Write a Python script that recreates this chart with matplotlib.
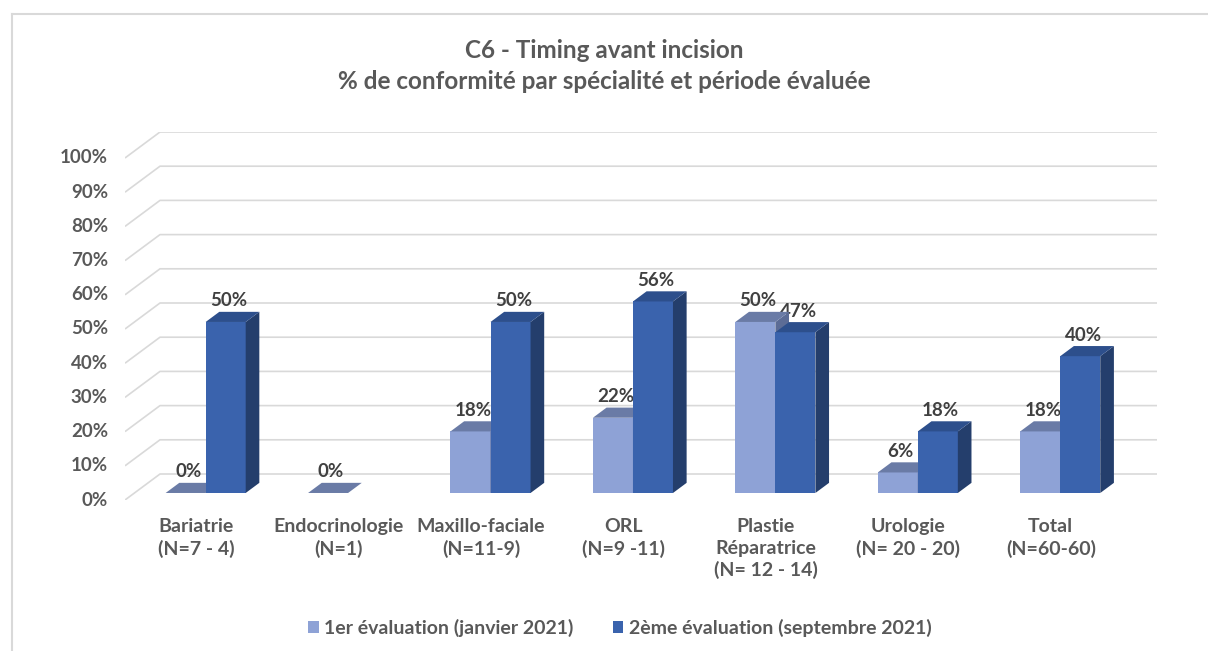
import matplotlib.pyplot as plt
from matplotlib.patches import Polygon, Patch
from matplotlib.lines import Line2D

plt.rcParams['font.family'] = ['Lato', 'DejaVu Sans']

categories = ["Bariatrie\n(N=7 - 4)", "Endocrinologie\n(N=1)", "Maxillo-faciale\n(N=11-9)",
              "ORL\n(N=9 -11)", "Plastie\nRéparatrice\n(N= 12 - 14)",
              "Urologie\n(N= 20 - 20)", "Total\n(N=60-60)"]
eval_jan = [0, 0, 18, 22, 50, 6, 18]
eval_sep = [50, None, 50, 56, 47, 18, 40]
series_names = ["1er évaluation (janvier 2021)", "2ème évaluation (septembre 2021)"]
y_ticks = list(range(0, 101, 10))

title = "C6 - Timing avant incision\n% de conformité par spécialité et période évaluée"

# colours: front, top, side
light = ("#8EA2D6", "#6A7BA6", "#5C6C96")
dark = ("#3A63AD", "#2D4F8C", "#243E6C")
grid_col = "#D9D9D9"
text_col = "#595959"
label_col = "#404040"

# 3D look: depth of the walls in data units, bar geometry as fractions of it
DX = 0.2457
DY = 7.6
BW = 0.281
F0 = 0.27   # bar front position in depth
FD = 0.39   # bar depth

W, H = 1208, 651
fig = plt.figure(figsize=(W / 100, H / 100), dpi=100)
ax = fig.add_axes([125 / W, 151 / H, 1032 / W, 368 / H])
ax.set_xlim(0, len(categories) + DX)
ax.set_ylim(0, 100 + DY)
ax.axis("off")

# walls / gridlines
n = len(categories)
for v in y_ticks:
    ax.plot([0, DX, n + DX], [v, v + DY, v + DY], color=grid_col, lw=1.2,
            solid_capstyle="butt", zorder=1)
    ax.text(-0.12, v, f"{v}%", ha="right", va="center", fontsize=13.5,
            color=text_col, fontweight="bold")


def bar3d(x, v, cols, z):
    xf = x + F0 * DX
    yb = F0 * DY
    yt = v + yb
    dx, dy = FD * DX, FD * DY
    if v > 0:
        ax.bar(xf, v, width=BW, bottom=yb, align="edge", color=cols[0],
               lw=0, zorder=z)
        ax.add_patch(Polygon([(xf + BW, yb), (xf + BW, yt), (xf + BW + dx, yt + dy),
                              (xf + BW + dx, yb + dy)], closed=True,
                             facecolor=cols[2], lw=0, zorder=z))
    ax.add_patch(Polygon([(xf, yt), (xf + BW, yt), (xf + BW + dx, yt + dy),
                          (xf + dx, yt + dy)], closed=True,
                         facecolor=cols[1], lw=0, zorder=z))
    ax.text(xf + BW / 2 + 0.02, yt + dy + 1.6, f"{v:.0f}%", ha="center",
            va="baseline", fontsize=13.5, fontweight="bold", color=label_col,
            zorder=10)


for i in range(n):
    c = i + 0.5
    if eval_jan[i] is not None:
        bar3d(c - BW, eval_jan[i], light, 3 + 2 * i)
    if eval_sep[i] is not None:
        bar3d(c, eval_sep[i], dark, 4 + 2 * i)
    ax.text(c, -5.4, categories[i], ha="center", va="top", fontsize=14,
            color=text_col, fontweight="bold", linespacing=1.3)

fig.text(0.5, 1 - 66 / H, title, ha="center", va="center", fontsize=17.5,
         color=text_col, fontweight="bold", linespacing=1.45)

handles = [Patch(facecolor=light[0], label=series_names[0]),
           Patch(facecolor=dark[0], label=series_names[1])]
fig.legend(handles=handles, loc="center", bbox_to_anchor=(620 / W, 1 - 628 / H),
           ncol=2, frameon=False, handlelength=0.55, handleheight=0.55,
           handletextpad=0.3, columnspacing=2.0, labelcolor=text_col,
           prop={"weight": "bold", "size": 14})

# chart border (top and left edges visible)
fig.add_artist(Line2D([11.5 / W, 11.5 / W], [0, 1 - 14 / H], color=grid_col, lw=1.5,
                      transform=fig.transFigure))
fig.add_artist(Line2D([11.5 / W, 1], [1 - 14 / H, 1 - 14 / H], color=grid_col, lw=1.5,
                      transform=fig.transFigure))

fig.savefig("out.png", dpi=100)
